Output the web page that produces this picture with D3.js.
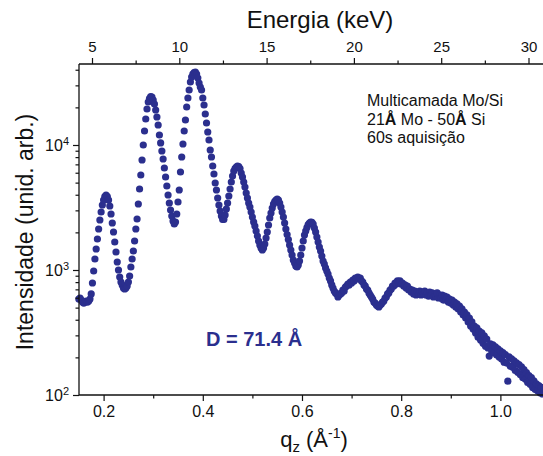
<!DOCTYPE html>
<html>
<head>
<meta charset="utf-8">
<script src="https://cdn.jsdelivr.net/npm/d3@7"></script>
<style>
body { margin: 0; background: #fff; }
svg { display: block; }
text { font-family: "Liberation Sans", Arial, sans-serif; fill: #111; }
</style>
</head>
<body>
<div id="chart"></div>
<script>
// measured q_z bins (uniform step) and the intensity read in each bin
let qStart = 0.15;
let qStep = 0.0025;
let intensity = [
  586,597,575,554,544,554,564,554,564,586,
  643,787,982,1225,1472,1770,2128,2512,2911,3311,
  3631,3873,3981,3873,3631,3251,2805,2377,2014,1675,
  1393,1159,1000,879,802,759,718,705,718,745,
  802,895,1057,1225,1419,1706,2128,2559,3373,4446,
  5754,7586,10000,12940,16140,19410,22080,23550,24430,24150,
  22910,21280,19050,16750,14450,12020,10380,8954,7727,6546,
  5546,4699,3981,3436,3020,2704,2466,2333,2421,2805,
  3499,4365,6081,8017,10190,12940,15850,20140,23770,27540,
  31920,34990,36980,38020,38370,36980,34360,31330,29110,27540,
  23770,20890,17700,15000,12710,10960,9120,8017,6792,5861,
  4966,4365,3767,3311,2965,2704,2535,2535,2754,3076,
  3436,3908,4446,5058,5649,6194,6486,6668,6792,6730,
  6486,5970,5546,5058,4613,4130,3767,3436,3192,2911,
  2655,2421,2249,2051,1871,1706,1585,1500,1445,1500,
  1614,1803,2014,2291,2606,2858,3133,3373,3532,3631,
  3698,3631,3436,3192,2911,2655,2377,2128,1923,1754,
  1585,1445,1318,1202,1138,1076,1057,1096,1180,1318,
  1500,1706,1905,2051,2188,2312,2377,2421,2400,2333,
  2168,2014,1837,1675,1528,1419,1294,1180,1117,1038,
  982,929,863,817,759,718,679,655,643,608,
  631,643,655,692,679,731,745,773,759,802,
  787,832,817,863,847,879,847,863,817,802,
  759,745,705,692,655,631,608,586,554,544,
  525,515,506,525,535,554,564,597,608,643,
  655,692,705,745,745,787,773,817,787,817,
  773,787,745,759,718,745,692,705,667,692,
  643,679,631,667,643,679,631,667,643,679,
  631,655,619,667,631,655,608,643,619,655,
  597,631,597,631,575,619,575,608,554,586,
  544,575,525,554,506,535,488,515,461,488,
  437,461,413,437,384,413,356,384,337,356,
  313,345,290,325,276,314,260,297,246,280,
  238,205,256,225,252,217,243,209,234,201,
  226,194,218,183,210,180,129,202,170,195,
  167,188,157,181,152,175,146,168,138,160,
  134,151,126,143,122,138,115,130,111,123,
  108,119,104,115,102
];

let qzTicks = [0.2, 0.4, 0.6, 0.8, 1.0];
let qzMinor = [0.3, 0.5, 0.7, 0.9];
let energyTicks = [5, 10, 15, 20, 25, 30];
let energyMinor = [7.5, 12.5, 17.5, 22.5, 27.5];
let decadeTicks = [100, 1000, 10000];
let decadeMinor = [200,300,400,500,600,700,800,900,
                   2000,3000,4000,5000,6000,7000,8000,9000,
                   20000,30000,40000];

let infoLines = ['Multicamada Mo/Si', '21Å Mo - 50Å Si', '60s aquisição'];
let periodLabel = 'D = 71.4 Å';

let width = 543, height = 456;
let plot = {left: 79, top: 64, bottom: 395, right: 548};
let blue = '#2b2f8e';

let svg = d3.select('#chart').append('svg').attr('width', width).attr('height', height);

let x = d3.scaleLinear().domain([0.1504, 1.096]).range([plot.left, plot.right]);
let energy = d3.scaleLinear().domain([5, 30]).range([92, 528.5]);
let y = d3.scaleLog().domain([100, 44460]).range([plot.bottom, plot.top]);

let data = intensity.map((v, i) => ({q: qStart + i * qStep, v: v}));

// points
svg.append('g')
    .selectAll('circle')
    .data(data)
    .join('circle')
    .attr('cx', d => x(d.q))
    .attr('cy', d => y(d.v))
    .attr('r', 3.6)
    .attr('fill', blue);

function styleAxis(g) {
    g.select('.domain').remove();
    g.selectAll('line').attr('stroke', '#111').attr('stroke-width', 1.2);
    g.selectAll('text').attr('fill', '#111');
}

// bottom axis
svg.append('g')
    .attr('transform', `translate(0,${plot.bottom})`)
    .call(d3.axisBottom(x).tickValues(qzTicks).tickSize(6).tickPadding(5).tickFormat(d3.format('.1f')))
    .call(styleAxis)
    .selectAll('text').attr('font-size', 16);
svg.append('g')
    .attr('transform', `translate(0,${plot.bottom})`)
    .call(d3.axisBottom(x).tickValues(qzMinor).tickSize(3.5).tickFormat(''))
    .call(styleAxis);

// top axis (energy)
svg.append('g')
    .attr('transform', `translate(0,${plot.top})`)
    .call(d3.axisTop(energy).tickValues(energyTicks).tickSize(6).tickPadding(6))
    .call(styleAxis)
    .selectAll('text').attr('font-size', 15);
svg.append('g')
    .attr('transform', `translate(0,${plot.top})`)
    .call(d3.axisTop(energy).tickValues(energyMinor).tickSize(3.5).tickFormat(''))
    .call(styleAxis);

// left axis (log)
let yAxis = svg.append('g')
    .attr('transform', `translate(${plot.left},0)`)
    .call(d3.axisLeft(y).tickValues(decadeTicks).tickSize(6).tickPadding(4).tickFormat(() => ''))
    .call(styleAxis);
yAxis.selectAll('.tick text')
    .attr('font-size', 16)
    .each(function(d) {
        let t = d3.select(this);
        t.text('10');
        t.append('tspan').attr('dy', '-0.55em').attr('font-size', 11).text(Math.round(Math.log10(d)));
    });
svg.append('g')
    .attr('transform', `translate(${plot.left},0)`)
    .call(d3.axisLeft(y).tickValues(decadeMinor).tickSize(3.5).tickFormat(''))
    .call(styleAxis);

// axis lines
svg.append('line').attr('x1', plot.left).attr('x2', plot.left).attr('y1', plot.top).attr('y2', plot.bottom)
    .attr('stroke', '#111').attr('stroke-width', 1.3);
svg.append('line').attr('x1', plot.left).attr('x2', width).attr('y1', plot.bottom).attr('y2', plot.bottom)
    .attr('stroke', '#111').attr('stroke-width', 1.3);
svg.append('line').attr('x1', plot.left).attr('x2', width).attr('y1', plot.top).attr('y2', plot.top)
    .attr('stroke', '#111').attr('stroke-width', 1.3);

// titles
svg.append('text').attr('x', 320).attr('y', 27.5).attr('text-anchor', 'middle')
    .attr('font-size', 24).text('Energia (keV)');

svg.append('text').attr('transform', 'translate(33,232) rotate(-90)').attr('text-anchor', 'middle')
    .attr('font-size', 23).text('Intensidade (unid. arb.)');

let xl = svg.append('text').attr('x', 314).attr('y', 447).attr('text-anchor', 'middle').attr('font-size', 22);
xl.append('tspan').text('q');
xl.append('tspan').attr('font-size', 15).attr('dy', 5).text('z');
xl.append('tspan').attr('dy', -5).text(' (Å');
xl.append('tspan').attr('font-size', 14).attr('dy', -9).text('-1');
xl.append('tspan').attr('dy', 9).text(')');

// sample info
let info = svg.append('g').attr('font-size', 16);
infoLines.forEach((line, i) => {
    let t = info.append('text').attr('x', 367).attr('y', 106 + i * 18.5);
    line.split(/(Å)/).forEach(part => {
        if (part === '') return;
        let s = t.append('tspan').text(part);
        if (part === 'Å') s.attr('font-weight', 'bold');
    });
});

svg.append('text').attr('x', 206).attr('y', 346).attr('font-size', 20).attr('font-weight', 'bold')
    .style('fill', blue).text(periodLabel);
</script>
</body>
</html>
